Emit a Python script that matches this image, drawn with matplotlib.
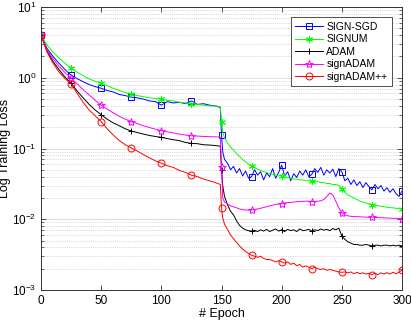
import numpy as np
import matplotlib
matplotlib.use("Agg")
import matplotlib.pyplot as plt
from matplotlib.ticker import LogLocator, FixedLocator

plt.rcParams['font.family'] = ['Liberation Sans', 'DejaVu Sans']
plt.rcParams['mathtext.fontset'] = 'custom'
plt.rcParams['mathtext.rm'] = 'Liberation Sans'

# epoch grid: every 5 before the lr drop, fine steps after it
epochs = np.concatenate([np.arange(0, 146, 5), [149, 150, 151], np.arange(152.5, 300.1, 2.5)])

sign_sgd = [4.0, 2.6, 2.0, 1.6, 1.3, 1.09, 0.97, 0.88, 0.80, 0.75,
            0.71, 0.66, 0.63, 0.58, 0.56, 0.53, 0.52, 0.50, 0.47, 0.46,
            0.41, 0.46, 0.44, 0.45, 0.43, 0.47, 0.42, 0.43, 0.41, 0.40,
            0.38, 0.155, 0.09,
            0.07, 0.062, 0.05, 0.056, 0.045, 0.052, 0.041, 0.048, 0.038, 0.040,
            0.050, 0.042, 0.047, 0.036, 0.045, 0.040, 0.052, 0.038, 0.046, 0.058,
            0.041, 0.047, 0.035, 0.044, 0.039, 0.048, 0.042, 0.050, 0.040, 0.043,
            0.052, 0.046, 0.054, 0.042, 0.050, 0.045, 0.051, 0.040, 0.052, 0.047,
            0.035, 0.038, 0.031, 0.036, 0.030, 0.034, 0.028, 0.033, 0.029, 0.026,
            0.031, 0.027, 0.030, 0.025, 0.028, 0.024, 0.027, 0.023, 0.021, 0.025]

signum = [4.0, 2.9, 2.3, 1.9, 1.6, 1.36, 1.2, 1.07, 0.96, 0.89,
          0.83, 0.77, 0.71, 0.66, 0.62, 0.58, 0.56, 0.54, 0.52, 0.51,
          0.50, 0.48, 0.47, 0.45, 0.44, 0.43, 0.42, 0.41, 0.40, 0.40,
          0.39, 0.24, 0.17,
          0.14, 0.12, 0.105, 0.095, 0.085, 0.077, 0.07, 0.065, 0.06, 0.057,
          0.054, 0.051, 0.049, 0.047, 0.046, 0.044, 0.043, 0.042, 0.041, 0.041,
          0.040, 0.039, 0.038, 0.037, 0.037, 0.036, 0.036, 0.035, 0.035, 0.035,
          0.034, 0.034, 0.033, 0.033, 0.032, 0.032, 0.031, 0.031, 0.030, 0.027,
          0.024, 0.022, 0.021, 0.020, 0.019, 0.018, 0.0175, 0.017, 0.0165, 0.016,
          0.0158, 0.0155, 0.0153, 0.015, 0.0148, 0.0146, 0.0145, 0.0143, 0.0142, 0.0140]

adam = [4.0, 2.4, 1.7, 1.3, 1.02, 0.84, 0.65, 0.52, 0.42, 0.35,
        0.30, 0.26, 0.23, 0.21, 0.19, 0.177, 0.168, 0.16, 0.153, 0.148,
        0.144, 0.138, 0.133, 0.129, 0.122, 0.118, 0.117, 0.113, 0.112, 0.110,
        0.108, 0.05, 0.03,
        0.021, 0.016, 0.013, 0.0115, 0.0095, 0.0082, 0.0075, 0.0071, 0.0069, 0.0068,
        0.0070, 0.0067, 0.0071, 0.0068, 0.0072, 0.0067, 0.0070, 0.0073, 0.0068, 0.0071,
        0.0067, 0.0072, 0.0069, 0.0071, 0.0067, 0.0073, 0.0069, 0.0070, 0.0072, 0.0068,
        0.0071, 0.0069, 0.0073, 0.0070, 0.0072, 0.0069, 0.0074, 0.0071, 0.0075, 0.0058,
        0.0052, 0.0048, 0.0046, 0.0044, 0.0044, 0.0043, 0.0043, 0.0044, 0.0043, 0.0042,
        0.0043, 0.0043, 0.0042, 0.0043, 0.0043, 0.0042, 0.0043, 0.0042, 0.0043, 0.0042]

sign_adam = [4.0, 2.5, 1.85, 1.45, 1.18, 0.99, 0.82, 0.68, 0.57, 0.48,
             0.41, 0.36, 0.32, 0.285, 0.26, 0.24, 0.225, 0.21, 0.198, 0.188,
             0.179, 0.172, 0.166, 0.160, 0.155, 0.151, 0.150, 0.148, 0.147, 0.146,
             0.145, 0.055, 0.02,
             0.0175, 0.0165, 0.0155, 0.015, 0.0145, 0.014, 0.0137, 0.0135, 0.0135, 0.0135,
             0.0137, 0.014, 0.0143, 0.0147, 0.015, 0.0155, 0.0158, 0.0162, 0.0165, 0.0167,
             0.017, 0.0172, 0.0173, 0.0175, 0.0177, 0.0178, 0.0179, 0.018, 0.018, 0.0178,
             0.0178, 0.018, 0.0182, 0.019, 0.021, 0.0235, 0.022, 0.018, 0.0145, 0.0123,
             0.0115, 0.0112, 0.011, 0.0109, 0.0109, 0.0108, 0.0108, 0.0107, 0.0107, 0.0107,
             0.0106, 0.0106, 0.0105, 0.0105, 0.0104, 0.0104, 0.0103, 0.0103, 0.0102, 0.0102]

sign_adam_pp = [4.0, 2.3, 1.6, 1.2, 0.97, 0.82, 0.6, 0.45, 0.35, 0.29,
                0.24, 0.19, 0.155, 0.13, 0.113, 0.102, 0.092, 0.082, 0.074, 0.067,
                0.062, 0.057, 0.054, 0.049, 0.046, 0.042, 0.040, 0.037, 0.035, 0.033,
                0.031, 0.0146, 0.0105,
                0.0085, 0.0072, 0.006, 0.0053, 0.0047, 0.0042, 0.0038, 0.0035, 0.0033, 0.0031,
                0.0030, 0.0029, 0.0030, 0.0028, 0.0027, 0.0027, 0.0026, 0.0025, 0.0026, 0.0025,
                0.0024, 0.0025, 0.0023, 0.0024, 0.0022, 0.0023, 0.0021, 0.0022, 0.0021, 0.0020,
                0.0021, 0.0020, 0.00195, 0.0020, 0.0019, 0.00195, 0.0019, 0.00185, 0.0018, 0.00178,
                0.0018, 0.00175, 0.0018, 0.0017, 0.00178, 0.0017, 0.00175, 0.00168, 0.00172, 0.00165,
                0.00172, 0.00165, 0.00175, 0.00168, 0.00176, 0.00168, 0.00178, 0.0017, 0.00178, 0.0019]

series = [
    ("SIGN-SGD", sign_sgd, "#0000ff", "s", 4.5),
    ("SIGNUM", signum, "#00ff00", (6, 2, 0), 5),
    ("ADAM", adam, "#000000", "+", 5),
    ("signADAM", sign_adam, "#ff00ff", "*", 6),
    ("signADAM++", sign_adam_pp, "#ff0000", "o", 5),
]

marks = [i for i, e in enumerate(epochs) if e % 25 == 0]

fig = plt.figure(figsize=(4.11, 3.27), dpi=100)
ax = fig.add_axes([0.0998, 0.1131, 0.8783, 0.8655])

for name, vals, col, mk, ms in series:
    ax.plot(epochs, vals, color=col, lw=0.7, marker=mk, markevery=marks,
            markersize=ms, markerfacecolor="none",
            markeredgecolor=col, markeredgewidth=0.7, label=name)

ax.set_yscale("log")
ax.set_xlim(0, 300)
ax.set_ylim(1e-3, 10)
ax.xaxis.set_major_locator(FixedLocator([0, 50, 100, 150, 200, 250, 300]))
ax.yaxis.set_major_locator(LogLocator(base=10, numticks=10))
ax.yaxis.set_minor_locator(LogLocator(base=10, subs=np.arange(2, 10), numticks=20))

ax.grid(True, which="major", axis="y", color="#d9d9d9", lw=0.6, ls="-")
ax.grid(True, which="minor", axis="y", color="#bbbbbb", lw=0.5, ls=":")
ax.set_axisbelow(True)

ax.tick_params(which="both", direction="in", top=True, right=True, labelsize=8.5, color="#333333")
ax.tick_params(which="major", length=3.5, width=0.6)
ax.tick_params(which="minor", length=2, width=0.5)
for s in ax.spines.values():
    s.set_linewidth(0.7)
    s.set_color("#333333")

ax.set_xlabel("# Epoch", fontsize=9, labelpad=1)
ax.set_ylabel("Log Training Loss", fontsize=9, labelpad=1)

leg = ax.legend(loc="upper right", fontsize=7.5, handlelength=2.7, framealpha=1,
                fancybox=False, edgecolor="#333333", borderaxespad=1.0,
                labelspacing=0.25, borderpad=0.4, handletextpad=0.3)
leg.get_frame().set_linewidth(0.6)

fig.savefig("out.png", dpi=100)
